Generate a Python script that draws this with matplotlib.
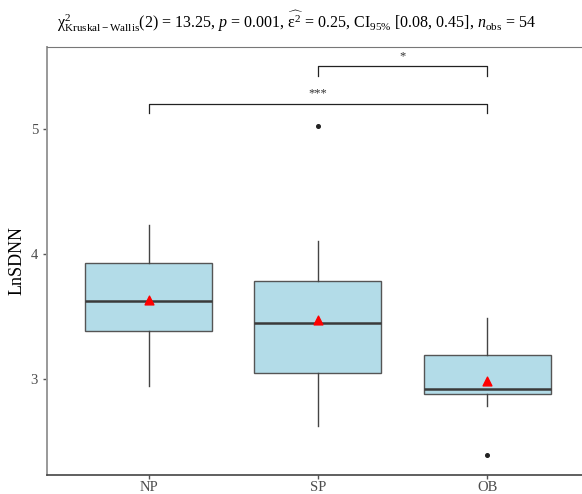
import numpy as np
import matplotlib
matplotlib.use('Agg')
import matplotlib.pyplot as plt

plt.rcParams['font.family'] = ['Liberation Serif', 'DejaVu Serif']
plt.rcParams['mathtext.fontset'] = 'custom'
plt.rcParams['mathtext.rm'] = 'Liberation Serif'
plt.rcParams['mathtext.it'] = 'Liberation Serif:italic'
plt.rcParams['mathtext.bf'] = 'Liberation Serif:bold'

# group statistics
groups = ['NP', 'SP', 'OB']
q1 = [3.38, 3.05, 2.88]
median = [3.62, 3.45, 2.92]
q3 = [3.93, 3.78, 3.19]
whislo = [2.94, 2.62, 2.78]
whishi = [4.23, 4.10, 3.49]
means = [3.63, 3.47, 2.98]
outliers = [[], [5.02], [2.39]]

# pairwise comparisons (group index pairs, bracket height, label)
pairs = [(1, 2), (0, 2)]
pair_y = [5.50, 5.20]
pair_labels = ['*', '***']

title = (r'$\mathrm{\chi}^2_{\mathrm{Kruskal-Wallis}}$(2) = 13.25, $\mathit{p}$ = 0.001, '
         r'$\widehat{\mathrm{\varepsilon}^2}$ = 0.25, CI$_{95\%}$ [0.08, 0.45], '
         r'$\mathit{n}_{\mathrm{obs}}$ = 54')

fig = plt.figure(figsize=(5.82, 4.94), dpi=100)
ax = fig.add_axes([0.0808, 0.0385, 0.9192, 0.8664])

stats = []
for i, g in enumerate(groups):
    stats.append(dict(label=g, q1=q1[i], med=median[i], q3=q3[i],
                      whislo=whislo[i], whishi=whishi[i], fliers=outliers[i]))

pos = np.arange(1, len(groups) + 1)
ax.bxp(stats, positions=pos, widths=0.75, patch_artist=True, showcaps=False,
       boxprops=dict(facecolor='#b3dce8', edgecolor='#555555', linewidth=1.0),
       medianprops=dict(color='#3a3a3a', linewidth=1.8),
       whiskerprops=dict(color='#444444', linewidth=1.0),
       flierprops=dict(marker='o', markersize=2.6, markerfacecolor='#222222',
                       markeredgecolor='#222222'))

ax.scatter(pos, means, marker='^', color='red', s=40, zorder=5)

for (a, b), y, lab in zip(pairs, pair_y, pair_labels):
    xa, xb = pos[a], pos[b]
    ax.plot([xa, xa, xb, xb], [y - 0.075, y, y, y - 0.075], color='#222222', lw=0.9)
    ax.text((xa + xb) / 2, y + 0.035, lab, ha='center', va='bottom',
            fontsize=9, color='#333333')

ax.set_xlim(0.4, 3.56)
ax.set_ylim(2.232, 5.656)
ax.set_yticks([3, 4, 5])
ax.set_xticks(pos)
ax.set_xticklabels(groups)
ax.tick_params(axis='both', colors='#555555', labelcolor='#4d4d4d',
               labelsize=10.5, length=3, width=1)
ax.tick_params(axis='x', pad=1.5)
ax.set_ylabel('LnSDNN', fontsize=13, color='black', labelpad=4)

ax.spines['right'].set_visible(False)
ax.spines['top'].set_color('#777777')
ax.spines['left'].set_color('#999999')
ax.spines['left'].set_linewidth(1.4)
ax.spines['bottom'].set_color('#444444')
ax.spines['bottom'].set_linewidth(1.2)

fig.text(0.098, 0.957, title, fontsize=11.5, ha='left', va='center')

fig.savefig('out.png', dpi=100)
